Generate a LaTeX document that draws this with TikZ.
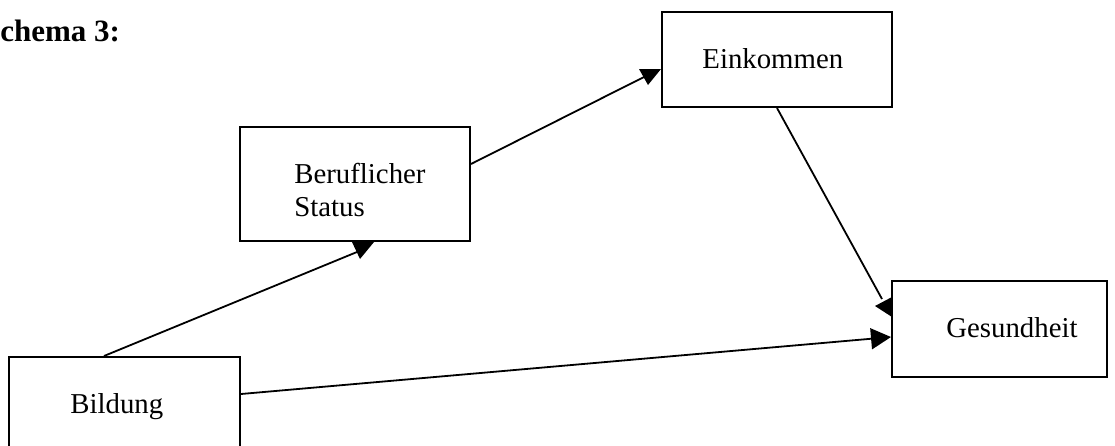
\documentclass[tikz,border=0pt]{standalone}
\usepackage{fontspec}
\setmainfont{Liberation Serif}
\usetikzlibrary{calc,arrows.meta}
\begin{document}
\begin{tikzpicture}[x=0.5pt,y=-0.5pt,
  box/.style={draw,line width=1pt,rectangle,inner sep=0pt},
  lbl/.style={anchor=base west,inner sep=0pt,font=\fontsize{14.4}{12.5}\selectfont},
  conn/.style={line width=0.9pt},
  head/.style={fill=black}]
\useasboundingbox (0,0) rectangle (1115,445);
% boxes
\node[box,minimum width=115.5pt,minimum height=66.5pt] (bild) at (124.5,423.5) {};
\node[box,minimum width=115pt,minimum height=57pt] (beruf) at (355,184) {};
\node[box,minimum width=115pt,minimum height=47.5pt] (eink) at (777,59.5) {};
\node[box,minimum width=107.5pt,minimum height=48pt] (gesund) at (999.5,329) {};
% texts
\node[anchor=base west,inner sep=0pt,font=\fontsize{15.5}{18}\selectfont\bfseries] (title) at (0,41) {chema 3:};
\node[lbl] (bildt) at (70,413) {Bildung};
\node[lbl] (beruft1) at (294,183) {Beruflicher};
\node[lbl] (beruft2) at (294,216) {Status};
\node[lbl] (einkt) at (702,68) {Einkommen};
\node[lbl] (gesundt) at (946,337) {Gesundheit};
% connectors
\coordinate (e1) at ($(beruf.south west)+(118,10)$);
\coordinate (e2) at ($(eink.north west)+(-17,66)$);
\coordinate (e3) at ($(gesund.north west)+(-9,19)$);
\draw[conn] ($(bild.north west)+(96,0)$) -- (e1);
\draw[conn] ($(beruf.north east)+(0,38)$) -- (e2);
\draw[conn] ($(eink.south west)+(116,0)$) -- (e3);
\draw[conn,-{Triangle[length=10pt,width=10.5pt]}] ($(bild.north east)+(0,38)$) -- ($(gesund.north west)+(0,57)$);
% arrowheads as drawn
\fill[head] (352,242) -- (374,242) -- (360,259) -- cycle;
\fill[head] (639,69) -- (661,69) -- (648,85) -- cycle;
\fill[head] (892,297) -- (892,317) -- (875,306) -- cycle;
\end{tikzpicture}
\end{document}
